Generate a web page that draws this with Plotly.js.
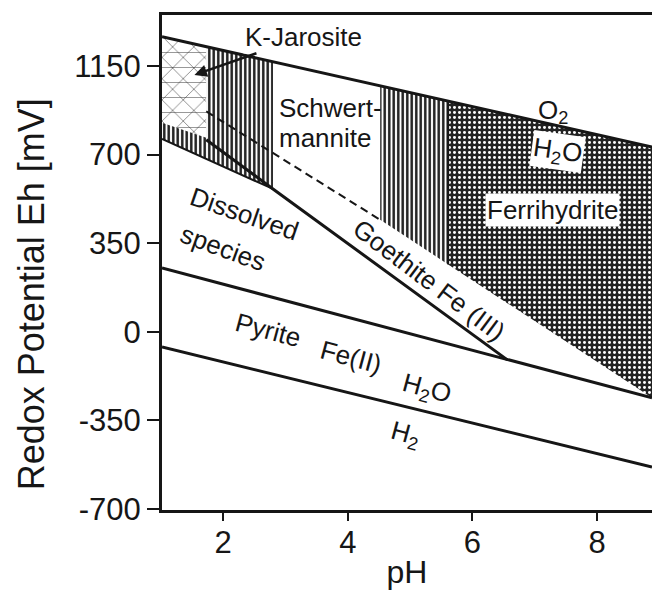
<!DOCTYPE html>
<html>
<head>
<meta charset="utf-8">
<script src="https://cdn.plot.ly/plotly-3.0.1.min.js"></script>
<style>
html,body{margin:0;padding:0;background:#fff;}
#chart{width:652px;height:590px;}
</style>
</head>
<body>
<div id="chart"></div>
<script>
// ---- data (pH, Eh in mV) ----
const xTickVals = [2, 4, 6, 8];
const yTickVals = [-700, -350, 0, 350, 700, 1050];
const yTickText = ['-700', '-350', '0', '350', '700', '1150'];

const waterUpperPH = [1.02, 8.88];
const waterUpperEh = [1165, 730];
const waterLowerPH = [1.02, 8.88];
const waterLowerEh = [-60, -534];
const pyriteLinePH = [1.02, 8.88];
const pyriteLineEh = [252, -261];
const fe3LinePH = [1.73, 2.80, 6.56];
const fe3LineEh = [758, 564, -111];
const bandEdgePH = [1.02, 2.80];
const bandEdgeEh = [762, 564];
const dashedPH = [1.73, 4.52];
const dashedEh = [870, 442];
const dividerPH = [5.61, 5.61];
const dividerEh = [911, 266];

const jarositePH = [1.02, 1.73, 1.73, 1.02];
const jarositeEh = [1165, 1125, 766, 825];
const schwert1PH = [1.02, 1.73, 1.73, 2.80, 2.80, 1.02];
const schwert1Eh = [825, 766, 1125, 1066, 564, 762];
const schwert2PH = [4.52, 5.61, 5.61, 4.52];
const schwert2Eh = [971, 911, 266, 442];
const ferriPH = [5.61, 8.88, 8.88, 5.61];
const ferriEh = [911, 730, -261, 266];

const FONT = 'Liberation Sans, Arial, Helvetica, sans-serif';
const INK = '#161616';

function region(x, y, pattern) {
  return {x: x, y: y, type: 'scatter', mode: 'lines', fill: 'toself',
    fillcolor: 'rgba(0,0,0,0)', line: {width: 0, color: 'rgba(0,0,0,0)'},
    fillpattern: pattern, hoverinfo: 'skip', showlegend: false};
}
function line(x, y, w, dash) {
  return {x: x, y: y, type: 'scatter', mode: 'lines',
    line: {color: INK, width: w, dash: dash || 'solid'},
    hoverinfo: 'skip', showlegend: false};
}

const traces = [
  region(jarositePH, jarositeEh, {shape: 'x', size: 15, solidity: 0.07, fgcolor: '#333', bgcolor: '#fff'}),
  region(jarositePH, jarositeEh, {shape: '-', size: 15, solidity: 0.07, fgcolor: '#333', fillmode: 'overlay'}),
  region(schwert1PH, schwert1Eh, {shape: '|', size: 4.5, solidity: 0.55, fgcolor: '#1e1e1e', bgcolor: '#fff'}),
  region(schwert2PH, schwert2Eh, {shape: '|', size: 4.5, solidity: 0.55, fgcolor: '#1e1e1e', bgcolor: '#fff'}),
  region(ferriPH, ferriEh, {shape: '.', size: 5, solidity: 0.28, fgcolor: '#fff', bgcolor: '#222'}),
  line(waterUpperPH, waterUpperEh, 3),
  line(waterLowerPH, waterLowerEh, 3),
  line(pyriteLinePH, pyriteLineEh, 3),
  line(fe3LinePH, fe3LineEh, 3),
  line(bandEdgePH, bandEdgeEh, 2),
  line(dashedPH, dashedEh, 2, '8px,5px'),
  line(dividerPH, dividerEh, 2)
];

function lab(text, x, y, angle, extra) {
  return Object.assign({text: text, x: x, y: y, xref: 'x', yref: 'y', showarrow: false,
    textangle: angle || 0, font: {family: FONT, size: 26, color: INK}}, extra || {});
}

const annotations = [
  lab('K-Jarosite', 3.29, 1165, 0, {showarrow: true, ax: 3.29, ay: 1165, axref: 'x', ayref: 'y',
     x: 1.54, y: 1014, arrowhead: 2, arrowsize: 1, arrowwidth: 2.5, arrowcolor: INK, bgcolor: '#fff'}),
  lab('Schwert-', 2.867, 884, 0, {xanchor: 'left'}),
  lab('mannite', 2.867, 766, 0, {xanchor: 'left'}),
  lab('Dissolved', 2.35, 465, 19),
  lab('species', 2.0, 331, 20),
  lab('Goethite Fe (III)', 5.30, 204, 37),
  lab('Pyrite', 2.72, 7, 15),
  lab('Fe(II)', 4.05, -100, 15),
  lab('H<sub>2</sub>O', 5.27, -230, 15),
  lab('H<sub>2</sub>', 4.92, -407, 15),
  lab('O<sub>2</sub>', 7.29, 868, 0),
  lab('H<sub>2</sub>O', 7.37, 710, 8, {bgcolor: '#fff', borderpad: 1}),
  lab('Ferrihydrite', 7.29, 481, 0, {bgcolor: '#fff', borderpad: 1}),
  {text: 'Redox Potential Eh [mV]', xref: 'paper', yref: 'paper', x: -0.267, y: 0.436,
   xanchor: 'center', yanchor: 'middle', textangle: -90, showarrow: false,
   font: {family: FONT, size: 36, color: INK}}
];

const layout = {
  width: 652, height: 590,
  margin: {l: 162, r: 0, t: 15, b: 80},
  paper_bgcolor: '#fff', plot_bgcolor: '#fff',
  font: {family: FONT, color: INK},
  xaxis: {
    range: [1.02, 8.88], tickvals: xTickVals, ticks: 'outside', ticklen: 8, tickwidth: 2, tickcolor: INK,
    showline: true, linewidth: 3, linecolor: INK, mirror: true, showgrid: false, zeroline: false,
    ticklabelstandoff: -5,
    tickfont: {family: FONT, size: 31, color: INK},
    title: {text: 'pH', font: {family: FONT, size: 32, color: INK}, standoff: 2}
  },
  yaxis: {
    range: [-704, 1251], tickvals: yTickVals, ticktext: yTickText, ticks: 'outside', ticklen: 12, tickwidth: 2,
    tickcolor: INK, showline: true, linewidth: 3, linecolor: INK, showgrid: false, zeroline: false,
    tickfont: {family: FONT, size: 31, color: INK}
  },
  annotations: annotations
};

Plotly.newPlot('chart', traces, layout, {displayModeBar: false, staticPlot: true});
</script>
</body>
</html>
